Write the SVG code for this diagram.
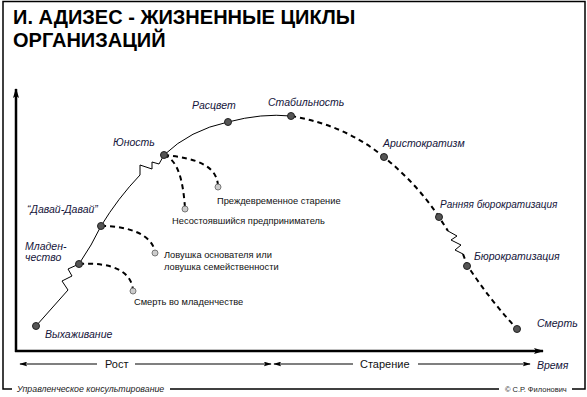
<svg xmlns="http://www.w3.org/2000/svg" width="587" height="397" viewBox="0 0 587 397">
<defs>
<style>
.frame{fill:none;stroke:#000;stroke-width:1.5}
.title{font-family:"Liberation Sans",Arial,sans-serif;font-weight:bold;font-size:20px;fill:#000}
.lbl{font-family:"Liberation Sans",Arial,sans-serif;font-style:italic;font-size:10.5px;fill:#14143a}
.sm{font-family:"Liberation Sans",Arial,sans-serif;font-size:9.3px;fill:#111}
.axl{font-family:"Liberation Sans",Arial,sans-serif;font-size:11px;fill:#111}
.foot{font-family:"Liberation Sans",Arial,sans-serif;font-style:italic;font-size:8.8px;fill:#222}
.foot2{font-family:"Liberation Sans",Arial,sans-serif;font-size:7.5px;fill:#222}
.solid{fill:none;stroke:#000;stroke-width:1}
.dash{fill:none;stroke:#000;stroke-width:2;stroke-dasharray:5 4}
.axis{fill:none;stroke:#000;stroke-width:2.5}
.thin{fill:none;stroke:#000;stroke-width:1.2}
.dot{fill:#555;stroke:#222;stroke-width:1}
.ldot{fill:#ccc;stroke:#777;stroke-width:1}
</style>
<marker id="ah" viewBox="0 0 10 6" refX="9" refY="3" markerWidth="10" markerHeight="6" markerUnits="userSpaceOnUse" orient="auto">
<path d="M0,0 L10,3 L0,6 L2,3 Z" fill="#000"/>
</marker>
<marker id="ahs" viewBox="0 0 10 6" refX="9" refY="3" markerWidth="8" markerHeight="5" markerUnits="userSpaceOnUse" orient="auto">
<path d="M0,0 L10,3 L0,6 L2,3 Z" fill="#000"/>
</marker>
</defs>
<rect width="587" height="397" fill="#fff"/>
<g id="frame">
<path class="frame" d="M12,389 L3,389 L3,1.5 L585,1.5 L585,389 L572,389"/>
<line class="frame" x1="170" y1="389" x2="499" y2="389"/>
<text class="foot" x="17" y="392">Управленческое консультирование</text>
<text class="foot2" x="505" y="392">© С.Р. Филонович</text>
</g>
<g id="title">
<text class="title" x="13" y="24">И. АДИЗЕС - ЖИЗНЕННЫЕ ЦИКЛЫ</text>
<text class="title" x="13" y="47">ОРГАНИЗАЦИЙ</text>
</g>
<g id="axes">
<line class="axis" x1="16" y1="352" x2="16" y2="89" marker-end="url(#ah)"/>
<line class="axis" x1="15" y1="351" x2="543" y2="351" marker-end="url(#ah)"/>
<line class="thin" x1="97" y1="364" x2="20" y2="364" marker-end="url(#ahs)"/>
<line class="thin" x1="135" y1="364" x2="271" y2="364" marker-end="url(#ahs)"/>
<line class="thin" x1="353" y1="364" x2="274" y2="364" marker-end="url(#ahs)"/>
<line class="thin" x1="418" y1="364" x2="530" y2="364" marker-end="url(#ahs)"/>
<text class="axl" x="105" y="368">Рост</text>
<text class="axl" x="360" y="368">Старение</text>
<text class="lbl" x="537" y="369">Время</text>
</g>
<g id="connectors">
<path class="solid" d="M36,326 L68,290 L62,281 L72,276 L68,269 L79,264 Q92,245 101,226 Q118,198 140,175 L140,165 L152,169 L152,162 L159,164 L164,155 Q190,130 228,122 Q262,113 291,116"/>
<path class="dash" d="M291,116 Q345,125 384,157 Q418,185 439,217 L448,231"/>
<path class="solid" d="M448,231 L457,236 L451,240 L461,245 L455,250 L463,254"/>
<path class="dash" d="M463,254 L467,265 Q490,300 517,329"/>
<path class="dash" d="M79,264 C110,262 131,270 133,290"/>
<path class="dash" d="M101,226 C130,226 152,235 155,252"/>
<path class="dash" d="M164,155 C195,158 217,165 218,186"/>
<path class="dash" d="M164,155 C178,160 183,180 185,208"/>
</g>
<g id="n-vyhazhivanie"><circle class="dot" cx="36" cy="326" r="3.5"/><text class="lbl" x="45" y="338">Выхаживание</text></g>
<g id="n-mladenchestvo"><circle class="dot" cx="79" cy="264" r="3.5"/><text class="lbl" x="25" y="250">Младен-</text><text class="lbl" x="25" y="261">чество</text></g>
<g id="n-davai"><circle class="dot" cx="101" cy="226" r="3.5"/><text class="lbl" x="27" y="213">“Давай-Давай”</text></g>
<g id="n-yunost"><circle class="dot" cx="164" cy="155" r="3.5"/><text class="lbl" x="113" y="146">Юность</text></g>
<g id="n-rascvet"><circle class="dot" cx="228" cy="122" r="3.5"/><text class="lbl" x="192" y="109">Расцвет</text></g>
<g id="n-stabilnost"><circle class="dot" cx="291" cy="116" r="3.5"/><text class="lbl" x="268" y="106">Стабильность</text></g>
<g id="n-aristokratizm"><circle class="dot" cx="384" cy="157" r="3.5"/><text class="lbl" x="383" y="147">Аристократизм</text></g>
<g id="n-rannyaya"><circle class="dot" cx="439" cy="217" r="3.5"/><text class="lbl" x="440" y="208" style="font-size:10px">Ранняя бюрократизация</text></g>
<g id="n-byurokratizaciya"><circle class="dot" cx="467" cy="266" r="3.5"/><text class="lbl" x="474" y="260">Бюрократизация</text></g>
<g id="n-smert"><circle class="dot" cx="517" cy="329" r="3.5"/><text class="lbl" x="537" y="327">Смерть</text></g>
<g id="b-smert-mlad"><circle class="ldot" cx="133" cy="291" r="3"/><text class="sm" x="134" y="305">Смерть во младенчестве</text></g>
<g id="b-lovushka"><circle class="ldot" cx="155" cy="253" r="3"/><text class="sm" x="164" y="258">Ловушка основателя или</text><text class="sm" x="164" y="270">ловушка семейственности</text></g>
<g id="b-prezhdevremennoe"><circle class="ldot" cx="218" cy="187" r="3"/><text class="sm" x="217" y="204">Преждевременное старение</text></g>
<g id="b-nesostoyavshiysya"><circle class="ldot" cx="185" cy="209" r="3"/><text class="sm" x="172" y="224">Несостоявшийся предприниматель</text></g>
</svg>
